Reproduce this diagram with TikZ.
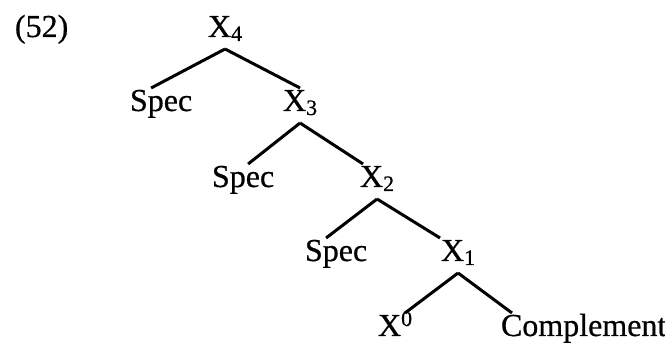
\documentclass[tikz,border=0pt]{standalone}
\usepackage{fontspec}
\setmainfont{Liberation Serif}[FakeBold=0.6]
\newcommand{\lsub}[1]{\raisebox{-4pt}{\fontsize{22}{22}\selectfont #1}}
\newcommand{\lsup}[1]{\raisebox{10pt}{\fontsize{22}{22}\selectfont #1}}
\tikzset{
  label/.style={anchor=base west, inner sep=0pt, text height=20pt, text depth=9pt, outer sep=3pt},
  branch/.style={line width=3pt, line cap=butt}
}
\begin{document}
\begin{tikzpicture}[x=1pt, y=1pt, font=\fontsize{32}{36}\selectfont]
    \useasboundingbox (0,0) rectangle (665,345);
    % example number
    \node[label] (num) at (12,308) {(52)};

    % projections of X
    \node[label] (x4) at (205,308) {X\lsub{4}};
    \node[label] (spec1) at (127,234) {Spec};
    \node[label] (x3) at (280,234) {X\lsub{3}};
    \node[label] (spec2) at (209,158) {Spec};
    \node[label] (x2) at (357,158) {X\lsub{2}};
    \node[label] (spec3) at (302,84) {Spec};
    \node[label] (x1) at (438,84) {X\lsub{1}};
    \node[label] (x0) at (375,9) {X\lsup{0}};
    \node[label] (comp) at (498,9) {Complement};

    % branches
    \draw[branch] (x4.south) -- ([xshift=-10pt]spec1.north);
    \draw[branch] (x4.south) -- (x3.north);
    \draw[branch] (x3.south) -- ([xshift=5pt]spec2.north);
    \draw[branch] (x3.south) -- ([xshift=-14pt]x2.north);
    \draw[branch] (x2.south) -- ([xshift=-10pt]spec3.north);
    \draw[branch] (x2.south) -- ([xshift=-18pt]x1.north);
    \draw[branch] (x1.south) -- ([xshift=10pt]x0.north);
    \draw[branch] (x1.south) -- ([xshift=14pt]comp.north west);
\end{tikzpicture}
\end{document}
